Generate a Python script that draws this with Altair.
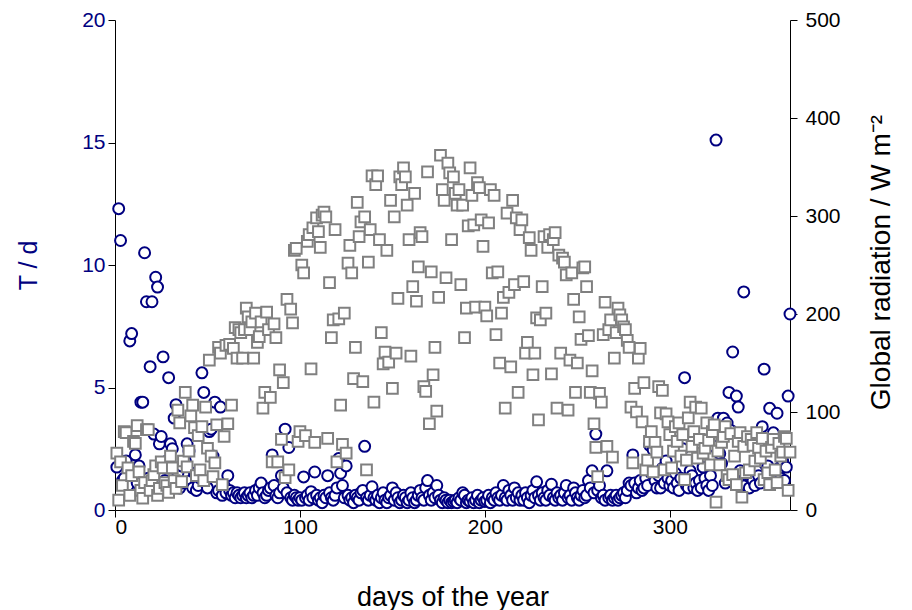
import altair as alt
import pandas as pd

NAVY = "#000080"
GRAY = "#808080"
FONT = "Liberation Sans"

# T / d (blue circles), one value per day
T = [
    1.75, 12.3, 11.0, 1.2, 1.3, 2.0, 1.0, 6.9, 7.2, 1.5,
    2.25, 1.1, 1.8, 4.4, 4.4, 10.5, 8.5, 1.3, 5.85, 8.5,
    3.1, 9.5, 9.1, 2.7, 3.0, 6.25, 1.2, 2.0, 5.4, 2.7,
    2.5, 3.75, 4.3, 1.5, 0.9, 1.8, 1.1, 2.0, 2.7, 2.4,
    1.2, 0.9, 1.5, 0.8, 1.0, 1.3, 5.6, 4.8, 1.1, 0.9,
    3.2, 3.3, 2.2, 4.4, 0.7, 0.8, 4.2, 0.6, 1.0, 0.7,
    1.4, 0.8, 0.6, 0.7, 0.5, 0.7, 0.6, 0.5, 0.6, 0.7,
    0.5, 0.6, 0.7, 0.5, 0.6, 0.8, 0.6, 0.9, 1.1, 0.7,
    0.5, 0.6, 0.8, 0.9, 2.25, 1.0, 0.6, 0.5, 0.7, 1.4,
    0.9, 3.3, 0.7, 2.55, 0.5, 0.4, 0.6, 0.5, 0.4, 0.5,
    0.4, 1.35, 0.5, 0.6, 0.4, 0.75, 0.5, 1.55, 0.6, 0.4,
    0.5, 0.3, 0.6, 0.5, 1.4, 0.7, 0.5, 0.4, 0.6, 0.9,
    2.1, 1.5, 1.0, 0.5, 1.8, 0.6, 0.4, 0.5, 0.3, 0.6,
    0.5, 0.4, 0.7, 0.8, 2.6, 0.5, 0.4, 0.6, 0.95, 0.5,
    0.4, 0.6, 0.3, 0.5, 0.7, 0.4, 0.3, 0.5, 0.6, 0.9,
    0.4, 0.7, 0.5, 0.3, 0.4, 0.6, 0.5, 0.3, 0.4, 0.7,
    0.5, 0.3, 0.4, 0.6, 0.8, 0.5, 0.4, 0.9, 1.2, 0.6,
    0.4, 0.7, 0.5, 1.0, 0.6, 0.4, 0.3, 0.5, 0.4, 0.3,
    0.4, 0.3, 0.35, 0.4, 0.3, 0.5, 0.4, 0.7, 0.6, 0.3,
    0.4, 0.35, 0.5, 0.3, 0.4, 0.6, 0.3, 0.4, 0.5, 0.35,
    0.4, 0.6, 0.3, 0.5, 0.4, 0.7, 0.5, 0.4, 0.6, 1.0,
    0.5, 0.4, 0.8, 0.6, 0.4, 0.9, 0.5, 0.7, 0.4, 0.6,
    0.4, 0.7, 0.5, 0.3, 0.6, 0.8, 0.5, 1.15, 0.6, 0.4,
    0.7, 0.5, 0.4, 0.8, 0.6, 1.05, 0.5, 0.4, 0.7, 0.5,
    0.6, 0.4, 0.7, 1.0, 0.5, 0.6, 0.4, 0.9, 0.7, 0.5,
    0.4, 0.6, 0.8, 0.5, 0.6, 1.2, 0.9, 1.6, 0.7, 3.1,
    0.8, 1.0, 0.5, 0.6, 0.4, 1.6, 0.5, 0.6, 0.4, 0.5,
    0.6, 0.4, 0.5, 0.6, 0.7, 0.5, 0.8, 1.1, 1.0, 2.25,
    1.1, 0.7, 0.9, 1.2, 0.8, 0.9, 1.3, 1.0, 2.65, 1.5,
    2.45, 1.2, 0.9, 1.4, 0.9, 1.7, 1.1, 2.0, 1.3, 1.0,
    1.2, 0.9, 1.5, 1.1, 0.8, 1.3, 2.5, 5.4, 1.0, 0.9,
    1.6, 1.4, 0.9, 1.1, 0.8, 1.2, 0.9, 1.75, 1.3, 1.0,
    0.8, 1.4, 1.0, 2.6, 15.1, 3.75, 2.3, 1.9, 3.75, 1.1,
    3.55, 4.8, 3.25, 6.45, 1.3, 4.65, 4.2, 1.6, 1.1, 8.9,
    1.0, 1.4, 0.9, 1.3, 1.2, 1.0, 1.6, 1.4, 1.1, 3.4,
    5.75, 1.3, 1.8, 4.15, 1.5, 3.15, 1.2, 3.95, 1.7, 1.3,
    2.0, 1.2, 1.75, 4.65, 8.0,
]

# Global radiation / W m-2 (grey squares), one value per day
R = [
    58, 10, 49, 25, 80, 79, 43, 15, 35, 70,
    68, 86, 39, 20, 12, 28, 82, 82, 20, 30,
    36, 45, 15, 22, 49, 43, 28, 25, 18, 55,
    43, 30, 22, 102, 89, 29, 50, 120, 44, 60,
    96, 107, 84, 35, 76, 41, 85, 30, 105, 63,
    153, 55, 34, 48, 87, 166, 160, 26, 75, 168,
    88, 169, 107, 165, 186, 155, 184, 181, 155, 184,
    206, 197, 184, 192, 155, 201, 171, 177, 192, 104,
    120, 202, 184, 115, 49, 190, 176, 49, 143, 72,
    130, 33, 215, 41, 205, 191, 265, 267, 70, 80,
    250, 242, 76, 274, 281, 144, 288, 69, 298, 284,
    268, 301, 304, 299, 73, 232, 176, 194, 286, 49,
    195, 107, 67, 201, 58, 252, 270, 242, 134, 166,
    314, 279, 294, 131, 299, 41, 253, 286, 341, 110,
    332, 341, 276, 181, 149, 161, 265, 151, 316, 124,
    299, 160, 216, 340, 332, 349, 340, 311, 276, 157,
    228, 323, 213, 248, 283, 279, 126, 121, 345, 88,
    243, 138, 166, 101, 217, 362, 327, 316, 237, 354,
    344, 276, 340, 323, 311, 327, 230, 311, 176, 206,
    290, 349, 321, 291, 207, 334, 329, 296, 269, 207,
    198, 293, 327, 242, 321, 179, 243, 150, 201, 217,
    104, 303, 222, 146, 316, 230, 298, 120, 286, 296,
    233, 160, 171, 278, 265, 138, 160, 196, 92, 194,
    228, 279, 201, 268, 281, 139, 276, 283, 104, 260,
    160, 257, 253, 240, 102, 153, 242, 215, 120, 150,
    197, 174, 247, 248, 228, 178, 120, 142, 88, 64,
    34, 119, 110, 179, 212, 65, 184, 194, 54, 155,
    181, 206, 199, 194, 187, 184, 173, 166, 105, 48,
    124, 100, 155, 165, 90, 130, 41, 51, 70, 80,
    39, 69, 59, 126, 99, 122, 41, 98, 90, 77,
    43, 60, 85, 70, 89, 55, 77, 31, 51, 94,
    110, 65, 80, 105, 53, 72, 104, 58, 63, 89,
    71, 46, 80, 87, 8, 60, 46, 69, 75, 85,
    35, 31, 78, 36, 55, 26, 70, 79, 13, 65,
    38, 75, 41, 72, 66, 50, 79, 63, 53, 73,
    31, 60, 38, 26, 64, 72, 41, 28, 68, 55,
    59, 75, 73, 20, 59,
]

X_TICKS = [0, 100, 200, 300]
T_TICKS = [0, 5, 10, 15, 20]
R_TICKS = [0, 100, 200, 300, 400, 500]

df_t = pd.DataFrame({"day": list(range(1, len(T) + 1)), "T": T})
df_r = pd.DataFrame({"day": list(range(1, len(R) + 1)), "R": R})

x_enc = alt.X(
    "day:Q",
    scale=alt.Scale(domain=[0, 365], nice=False, zero=False),
    axis=alt.Axis(
        values=X_TICKS,
        title="days of the year",
        titleX=337.5,
        titleY=87,
        titleBaseline="middle",
        titleFontSize=27,
        labelPadding=-1,
    ),
)

circles = alt.Chart(df_t).mark_circle(
    size=120, fill="white", stroke=NAVY, strokeWidth=2, opacity=1, fillOpacity=1
).encode(
    x=x_enc,
    y=alt.Y(
        "T:Q",
        scale=alt.Scale(domain=[0, 20], nice=False),
        axis=alt.Axis(
            orient="left",
            values=T_TICKS,
            title="T / d",
            titleColor=NAVY,
            labelColor=NAVY,
            titleFontSize=25,
            titleX=-87,
            titleY=245,
            titleBaseline="middle",
            labelPadding=3,
        ),
    ),
)

squares = alt.Chart(df_r).mark_square(
    size=115, fill="white", stroke=GRAY, strokeWidth=2, opacity=1, fillOpacity=1
).encode(
    x=x_enc,
    y=alt.Y(
        "R:Q",
        scale=alt.Scale(domain=[0, 500], nice=False),
        axis=alt.Axis(
            orient="right",
            values=R_TICKS,
            title="Global radiation / W m\u207b\u00b2",
            titleColor="black",
            labelColor="black",
            titleFontSize=28,
            titleAngle=270,
            titleX=91,
            titleY=242,
            titleBaseline="middle",
            labelPadding=8,
        ),
    ),
)

chart = (
    alt.layer(circles, squares)
    .resolve_scale(y="independent")
    .properties(
        width=675,
        height=490,
        padding={"left": 107, "top": 12, "right": 114, "bottom": 100},
        autosize=alt.AutoSizeParams(type="none"),
        background="white",
    )
    .configure_view(strokeWidth=0)
    .configure_axis(
        grid=False,
        labelFont=FONT,
        titleFont=FONT,
        labelFontSize=21,
        titleFontWeight="normal",
        domainColor="black",
        tickColor="black",
        domainWidth=1,
        tickWidth=1,
        tickSize=7,
    )
)

chart.save("out.html", embed_options={"renderer": "svg", "actions": False})
